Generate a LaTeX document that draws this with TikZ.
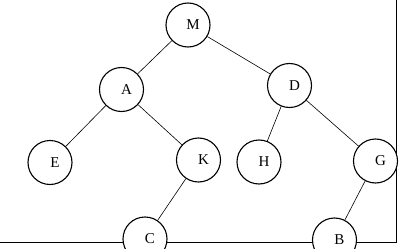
\documentclass[tikz,border=0pt]{standalone}
\usepackage{fontspec}
\setmainfont{Liberation Serif}
\begin{document}
\begin{tikzpicture}[
    x=1pt, y=-1pt,
    vertex/.style={circle, draw, line width=1.1pt, fill=white, minimum size=44pt, inner sep=0pt,
        label={[font=\fontsize{15}{15}\selectfont, xshift=5pt]center:#1}},
    tree/.style={line width=0.6pt}
]
\useasboundingbox (0,0) rectangle (416,249);
% Frame
\coordinate (frameTR) at (396,0);
\coordinate (frameBR) at (396,242);
\coordinate (frameBL) at (0,242);
\draw[tree] (frameTR) -- (frameBR) -- (frameBL);
% Vertices
\node[vertex=M] (M) at (188,25) {};
\node[vertex=A] (A) at (121.5,89.5) {};
\node[vertex=D] (D) at (289.5,85.5) {};
\node[vertex=E] (E) at (50,162.5) {};
\node[vertex=K] (K) at (198.5,160) {};
\node[vertex=H] (H) at (259,162) {};
\node[vertex=G] (G) at (375.5,161) {};
\node[vertex=C] (C) at (145,239) {};
\node[vertex=B] (B) at (334.5,240) {};
% Edges
\draw[tree] (M) -- (A);
\draw[tree] (M) -- (D);
\draw[tree] (A) -- (E);
\draw[tree] (A) -- (K);
\draw[tree] (D) -- (H);
\draw[tree] (D) -- (G);
\draw[tree] (K) -- (C);
\draw[tree] (G) -- (B);
\end{tikzpicture}
\end{document}
